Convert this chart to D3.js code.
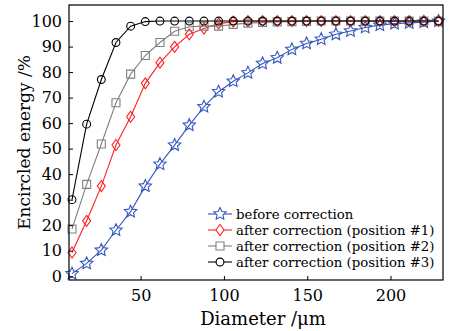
<!DOCTYPE html>
<html>
<head>
<meta charset="utf-8">
<script src="https://cdn.jsdelivr.net/npm/d3@7"></script>
<style>
	body { margin: 0; background: #fff; }
	svg { display: block; font-family: "DejaVu Serif", serif; }
</style>
</head>
<body>
<svg id="chart" width="453" height="331"></svg>
<script>
// diameter values (um)
var diameters = [8.8, 17.6, 26.4, 35.2, 44, 52.8, 61.6, 70.4, 79.2, 88, 96.8, 105.6, 114.4,
	123.2, 132, 140.8, 149.6, 158.4, 167.2, 176, 184.8, 193.6, 202.4, 211.2, 220, 228.8];

var beforeCorr = [1, 5, 10.2, 18, 25.3, 35.3, 43.9, 51.4, 59.2, 66.4, 72.3, 76.4, 79.7,
	83.4, 85.6, 88.9, 91.2, 92.9, 94.8, 96.1, 97.5, 98.4, 99, 99.3, 99.6, 100];
var pos1 = [9.3, 21.7, 35.3, 51.4, 62.5, 75.6, 83.7, 89.9, 94.8, 97.1, 99, 99.8, 100,
	100, 100, 100, 100, 100, 100, 100, 100, 100, 100, 100, 100, 100];
var pos2 = [18.5, 36, 51.8, 68, 79.2, 86.5, 91.6, 96, 97.8, 98, 98, 98.7, 99.2,
	99.5, 99.7, 99.8, 99.9, 100, 100, 100, 100, 100, 100, 100, 100, 100];
var pos3 = [30, 59.6, 77.1, 91.6, 98, 99.8, 100, 100, 100, 100, 100, 100, 100,
	100, 100, 100, 100, 100, 100, 100, 100, 100, 100, 100, 100, 100];

var xTicks = [50, 100, 150, 200];
var yTicks = [0, 10, 20, 30, 40, 50, 60, 70, 80, 90, 100];

var series = [
	{name: "before correction", values: beforeCorr, color: "#3558c0", marker: "star"},
	{name: "after correction (position #1)", values: pos1, color: "#ff2020", marker: "diamond"},
	{name: "after correction (position #2)", values: pos2, color: "#808080", marker: "square"},
	{name: "after correction (position #3)", values: pos3, color: "#000000", marker: "circle"}
];

var margin = {top: 5, right: 10, bottom: 51, left: 69},
	width = 453 - margin.left - margin.right,
	height = 331 - margin.top - margin.bottom;

var x = d3.scaleLinear().domain([7, 231.5]).range([0, width]);
var y = d3.scaleLinear().domain([-1.5, 106.3]).range([height, 0]);

var svg = d3.select("#chart");
var g = svg.append("g")
	.attr("transform", "translate(" + margin.left + "," + margin.top + ")");

// five point star, a bit fatter than d3.symbolStar
function starPath(ro, ri) {
	var p = d3.path();
	for (var k = 0; k < 10; k++) {
		var r = k % 2 ? ri : ro,
			a = -Math.PI / 2 + k * Math.PI / 5;
		if (k == 0) p.moveTo(r * Math.cos(a), r * Math.sin(a));
		else p.lineTo(r * Math.cos(a), r * Math.sin(a));
	}
	p.closePath();
	return p.toString();
}

function markerPath(type) {
	if (type == "star") return starPath(6.5, 3.1);
	if (type == "diamond") return "M0,-5.5L4,0L0,5.5L-4,0Z";
	if (type == "square") return "M-4,-4H4V4H-4Z";
	return d3.symbol(d3.symbolCircle).size(48)();
}

var line = d3.line()
	.x(function(d) { return x(d[0]); })
	.y(function(d) { return y(d[1]); });

series.forEach(function(s) {
	var pts = diameters.map(function(d, i) { return [d, s.values[i]]; });
	g.append("path")
		.attr("fill", "none")
		.attr("stroke", s.color)
		.attr("stroke-width", 1.1)
		.attr("d", line(pts));
	g.append("g")
		.selectAll("path")
		.data(pts)
		.enter()
		.append("path")
		.attr("transform", function(d) { return "translate(" + x(d[0]) + "," + y(d[1]) + ")"; })
		.attr("d", markerPath(s.marker))
		.attr("fill", "none")
		.attr("stroke", s.color)
		.attr("stroke-width", 1.1);
});

// axes, ticks inside
var xAxis = g.append("g")
	.attr("transform", "translate(0," + height + ")")
	.call(d3.axisBottom(x).tickValues(xTicks).tickSizeInner(-4).tickSizeOuter(0).tickPadding(10));
var yAxis = g.append("g")
	.call(d3.axisLeft(y).tickValues(yTicks).tickSizeInner(-4).tickSizeOuter(0).tickPadding(7));
[xAxis, yAxis].forEach(function(a) {
	a.select(".domain").remove();
	a.selectAll(".tick line").attr("stroke", "#000");
	a.selectAll("text").attr("font-family", "DejaVu Serif").attr("font-size", 16).attr("fill", "#000");
});

g.append("rect")
	.attr("width", width)
	.attr("height", height)
	.attr("fill", "none")
	.attr("stroke", "#000")
	.attr("stroke-width", 1.2);

// axis titles
svg.append("text")
	.attr("x", margin.left + width / 2 + 7)
	.attr("y", 325)
	.attr("text-anchor", "middle")
	.attr("font-size", 18)
	.text("Diameter /μm");

svg.append("text")
	.attr("transform", "translate(30," + (margin.top + height / 2) + ") rotate(-90)")
	.attr("text-anchor", "middle")
	.attr("font-size", 17)
	.text("Encircled energy /%");

// legend
var legend = svg.append("g").attr("transform", "translate(208,214)");
series.forEach(function(s, i) {
	var row = legend.append("g").attr("transform", "translate(0," + (i * 16) + ")");
	row.append("line")
		.attr("x1", 0).attr("x2", 24)
		.attr("stroke", s.color).attr("stroke-width", 1.1);
	row.append("path")
		.attr("transform", "translate(12,0)")
		.attr("d", markerPath(s.marker))
		.attr("fill", "#fff")
		.attr("stroke", s.color)
		.attr("stroke-width", 1.1);
	row.append("text")
		.attr("x", 28)
		.attr("dy", "0.35em")
		.attr("font-size", 13.3)
		.text(s.name);
});
</script>
</body>
</html>
